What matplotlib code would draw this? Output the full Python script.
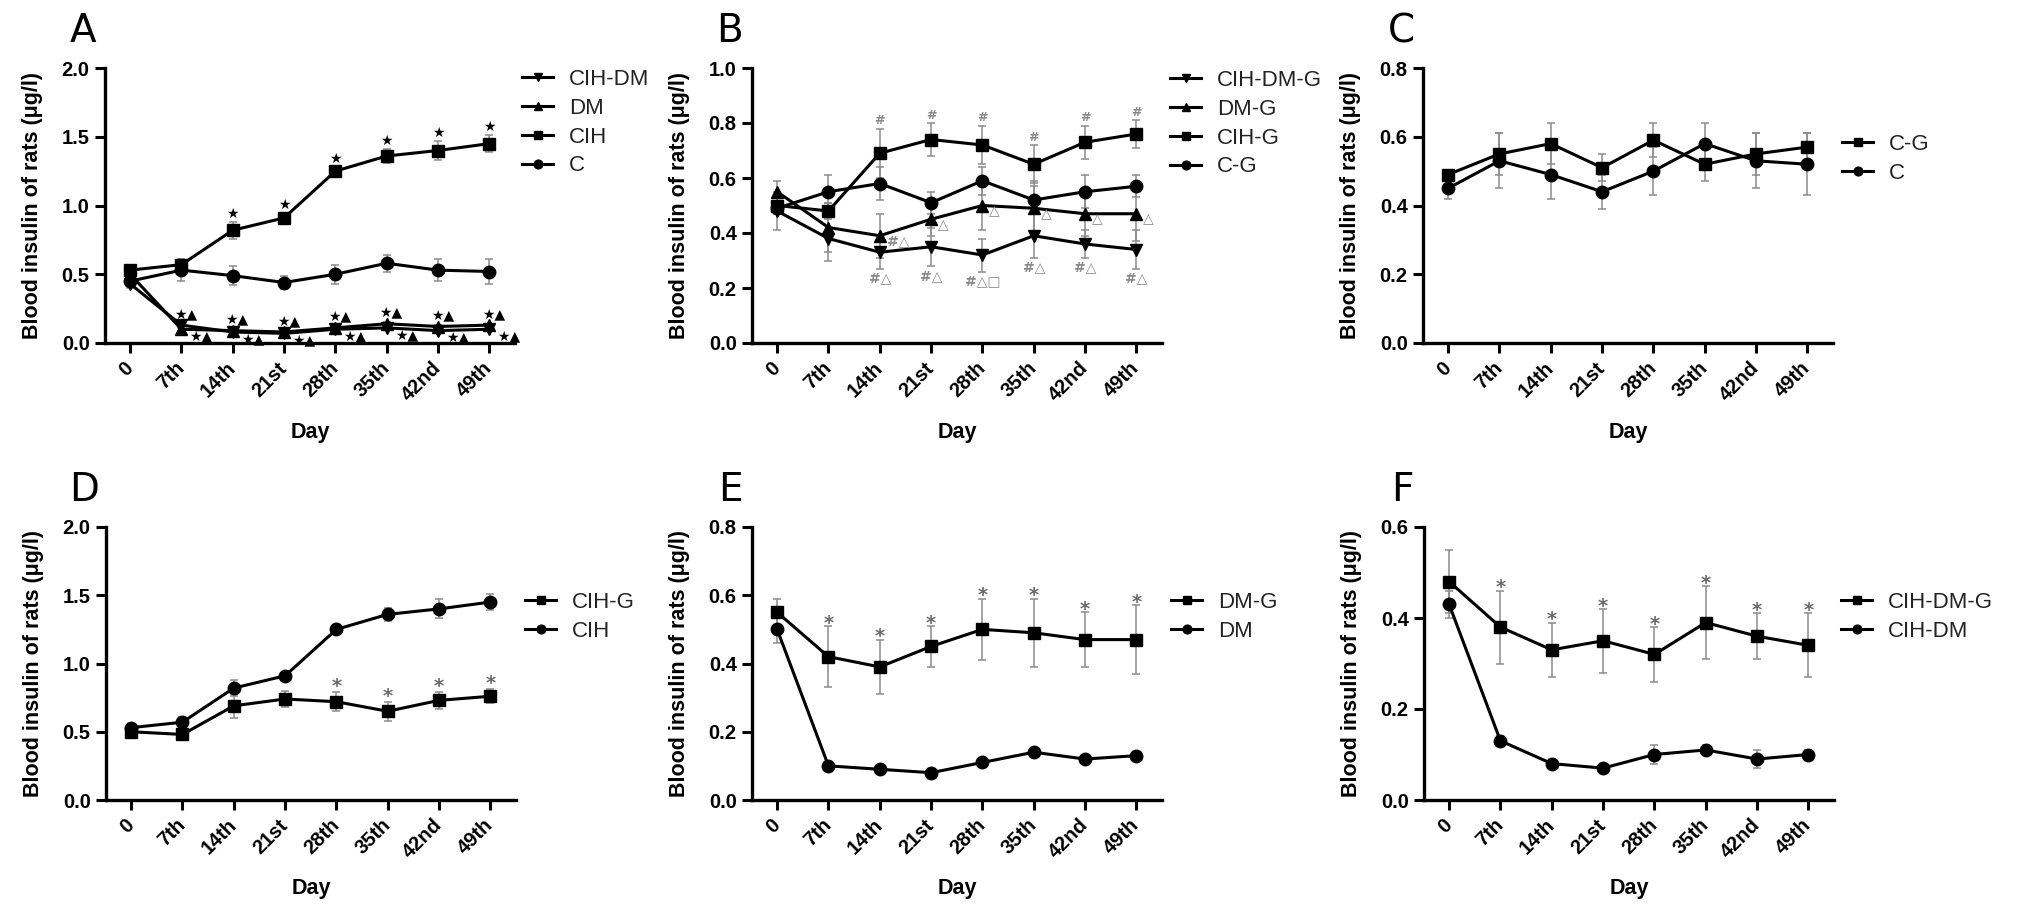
import matplotlib
matplotlib.use('Agg')
import numpy as np
import matplotlib.pyplot as plt

# ------------------------------------------------------------
# datos (insulina en sangre, ug/l)
# ------------------------------------------------------------
days = ['0', '7th', '14th', '21st', '28th', '35th', '42nd', '49th']

cih_dm = [0.43, 0.13, 0.08, 0.07, 0.10, 0.11, 0.09, 0.10]
cih_dm_err = [0.03, 0.01, 0.01, 0.01, 0.02, 0.01, 0.02, 0.01]
dm = [0.50, 0.10, 0.09, 0.08, 0.11, 0.14, 0.12, 0.13]
dm_err = [0.04, 0.01, 0.01, 0.01, 0.01, 0.01, 0.01, 0.01]
cih = [0.53, 0.57, 0.82, 0.91, 1.25, 1.36, 1.40, 1.45]
cih_err = [0.02, 0.04, 0.06, 0.03, 0.03, 0.05, 0.07, 0.06]
c = [0.45, 0.53, 0.49, 0.44, 0.50, 0.58, 0.53, 0.52]
c_err = [0.03, 0.08, 0.07, 0.05, 0.07, 0.06, 0.08, 0.09]

cih_dm_g = [0.48, 0.38, 0.33, 0.35, 0.32, 0.39, 0.36, 0.34]
cih_dm_g_err = [0.07, 0.08, 0.06, 0.07, 0.06, 0.08, 0.05, 0.07]
dm_g = [0.55, 0.42, 0.39, 0.45, 0.50, 0.49, 0.47, 0.47]
dm_g_err = [0.04, 0.09, 0.08, 0.06, 0.09, 0.10, 0.08, 0.10]
cih_g = [0.50, 0.48, 0.69, 0.74, 0.72, 0.65, 0.73, 0.76]
cih_g_err = [0.03, 0.03, 0.09, 0.06, 0.07, 0.07, 0.06, 0.05]
c_g = [0.49, 0.55, 0.58, 0.51, 0.59, 0.52, 0.55, 0.57]
c_g_err = [0.01, 0.06, 0.06, 0.04, 0.05, 0.05, 0.06, 0.04]

# marcas de significancia (indices de dias)
a_star_idx = [2, 3, 4, 5, 6, 7]
a_pair_idx = [1, 2, 3, 4, 5, 6, 7]
b_hash_idx = [2, 3, 4, 5, 6, 7]
b_low_labels = {2: '#△', 3: '#△', 4: '#△□', 5: '#△', 6: '#△', 7: '#△'}
b_side_labels = {2: '#△', 3: '△', 4: '△', 5: '△', 6: '△', 7: '△'}
d_star_idx = [4, 5, 6, 7]
e_star_idx = [1, 2, 3, 4, 5, 6, 7]
f_star_idx = [1, 2, 3, 4, 5, 6, 7]

ylabel = 'Blood insulin of rats (μg/l)'

# ------------------------------------------------------------
# estilo
# ------------------------------------------------------------
plt.rcParams['font.family'] = ['Liberation Sans', 'DejaVu Sans']
plt.rcParams['font.weight'] = 'bold'
plt.rcParams['axes.labelweight'] = 'bold'
plt.rcParams['axes.linewidth'] = 2.4

W, H = 2031, 924
GRAY = '#8c8c8c'
x = np.arange(len(days))

fig = plt.figure(figsize=(W / 100, H / 100), dpi=100)


def make_ax(spine_x, top_y, bottom_y):
    return fig.add_axes([spine_x / W, 1 - bottom_y / H, 410 / W, (bottom_y - top_y) / H])


def draw_panel(ax, series, ymax, ystep, letter, leg_x, leg_y):
    for label, marker, vals, errs in series:
        ax.errorbar(x, vals, yerr=errs, fmt='none', ecolor=GRAY, elinewidth=1.1,
                    capsize=3, capthick=1.1, zorder=2)
        ax.plot(x, vals, marker=marker, color='black', lw=2.2, ms=9,
                label=label, zorder=3, clip_on=False)
    ax.set_xlim(-0.49, 7.5)
    ax.set_ylim(0, ymax)
    ax.set_yticks(np.arange(0, ymax + 1e-9, ystep))
    ax.yaxis.set_major_formatter(plt.FuncFormatter(lambda v, _: f'{v:.1f}'))
    ax.set_xticks(x)
    ax.set_xticklabels(days, rotation=45, ha='right', va='center',
                       rotation_mode='anchor')
    ax.tick_params(axis='both', direction='out', length=7, width=2.2,
                   labelsize=14.5, pad=4)
    ax.tick_params(axis='x', pad=9)
    for s in ['top', 'right']:
        ax.spines[s].set_visible(False)
    ax.set_xlabel('Day', fontsize=15.5, fontweight='bold')
    ax.xaxis.set_label_coords(0.5, -0.325)
    ax.xaxis.label.set_va('center')
    ax.set_ylabel(ylabel, fontsize=15.5, fontweight='bold')
    ax.yaxis.set_label_coords(-0.178, 0.5)
    ax.yaxis.label.set_va('center')
    pos = ax.get_position()
    fig.text(pos.x0 - 22 / W, pos.y1 + 37 / H, letter, fontsize=28,
             fontweight='normal', family=['Liberation Sans Narrow', 'DejaVu Sans'],
             ha='center', va='center')
    ax.legend(loc='upper left', bbox_to_anchor=(leg_x / W, 1 - leg_y / H),
              bbox_transform=fig.transFigure, frameon=False, borderpad=0,
              borderaxespad=0, handlelength=1.4, handletextpad=0.7,
              labelspacing=0.35, markerscale=0.7,
              prop={'weight': 'normal', 'size': 16}, labelcolor='#222222')


def stars(ax, idx, vals, errs, dy=2):
    for i in idx:
        ax.annotate('*', xy=(i, vals[i] + errs[i]), xytext=(0, dy),
                    textcoords='offset points', ha='center', va='center',
                    fontsize=14, color='#6a6a6a', family=['DejaVu Sans'])


# ------------------------------------------------------------
# fila superior
# ------------------------------------------------------------
axA = make_ax(105, 68, 343)
draw_panel(axA, [('CIH-DM', 'v', cih_dm, cih_dm_err),
                 ('DM', '^', dm, dm_err),
                 ('CIH', 's', cih, cih_err),
                 ('C', 'o', c, c_err)], 2.0, 0.5, 'A', 522, 69)
for i in a_star_idx:
    axA.annotate('★', xy=(i, cih[i] + cih_err[i]), xytext=(0, 6),
                 textcoords='offset points', ha='center', va='center',
                 fontsize=10, color='black', family=['DejaVu Sans'])
for i in a_pair_idx:
    top = max(dm[i], cih_dm[i])
    low = min(dm[i], cih_dm[i])
    axA.annotate('★▲', xy=(i, top), xytext=(3, 8), textcoords='offset points',
                 ha='center', va='center', fontsize=10, color='black',
                 family=['DejaVu Sans'])
    axA.annotate('★▲', xy=(i, low), xytext=(14, -5), textcoords='offset points',
                 ha='center', va='center', fontsize=10, color='black',
                 family=['DejaVu Sans'])

axB = make_ax(752, 68, 343)
draw_panel(axB, [('CIH-DM-G', 'v', cih_dm_g, cih_dm_g_err),
                 ('DM-G', '^', dm_g, dm_g_err),
                 ('CIH-G', 's', cih_g, cih_g_err),
                 ('C-G', 'o', c_g, c_g_err)], 1.0, 0.2, 'B', 1170, 70)
for i in b_hash_idx:
    axB.annotate('#', xy=(i, cih_g[i] + cih_g_err[i]), xytext=(0, 1),
                 textcoords='offset points', ha='center', va='bottom',
                 fontsize=9, color='#8a8a8a', family=['DejaVu Sans'])
for i, txt in b_low_labels.items():
    axB.annotate(txt, xy=(i, cih_dm_g[i] - cih_dm_g_err[i]), xytext=(0, -2),
                 textcoords='offset points', ha='center', va='top',
                 fontsize=10, color='#8a8a8a', family=['DejaVu Sans'])
for i, txt in b_side_labels.items():
    axB.annotate(txt, xy=(i, dm_g[i]), xytext=(5, -4),
                 textcoords='offset points', ha='left', va='center',
                 fontsize=10, color='#8a8a8a', family=['DejaVu Sans'])

axC = make_ax(1423, 68, 343)
draw_panel(axC, [('C-G', 's', c_g, c_g_err),
                 ('C', 'o', c, c_err)], 0.8, 0.2, 'C', 1842, 134)

# ------------------------------------------------------------
# fila inferior
# ------------------------------------------------------------
axD = make_ax(106, 527, 800)
draw_panel(axD, [('CIH-G', 's', cih_g, cih_g_err),
                 ('CIH', 'o', cih, cih_err)], 2.0, 0.5, 'D', 525, 592)
stars(axD, d_star_idx, cih_g, cih_g_err, dy=4)

axE = make_ax(752, 527, 800)
draw_panel(axE, [('DM-G', 's', dm_g, dm_g_err),
                 ('DM', 'o', dm, dm_err)], 0.8, 0.2, 'E', 1171, 592)
stars(axE, e_star_idx, dm_g, dm_g_err)

axF = make_ax(1424, 527, 800)
draw_panel(axF, [('CIH-DM-G', 's', cih_dm_g, cih_dm_g_err),
                 ('CIH-DM', 'o', cih_dm, cih_dm_err)], 0.6, 0.2, 'F', 1841, 592)
stars(axF, f_star_idx, cih_dm_g, cih_dm_g_err)

plt.savefig('out.png', dpi=100)
